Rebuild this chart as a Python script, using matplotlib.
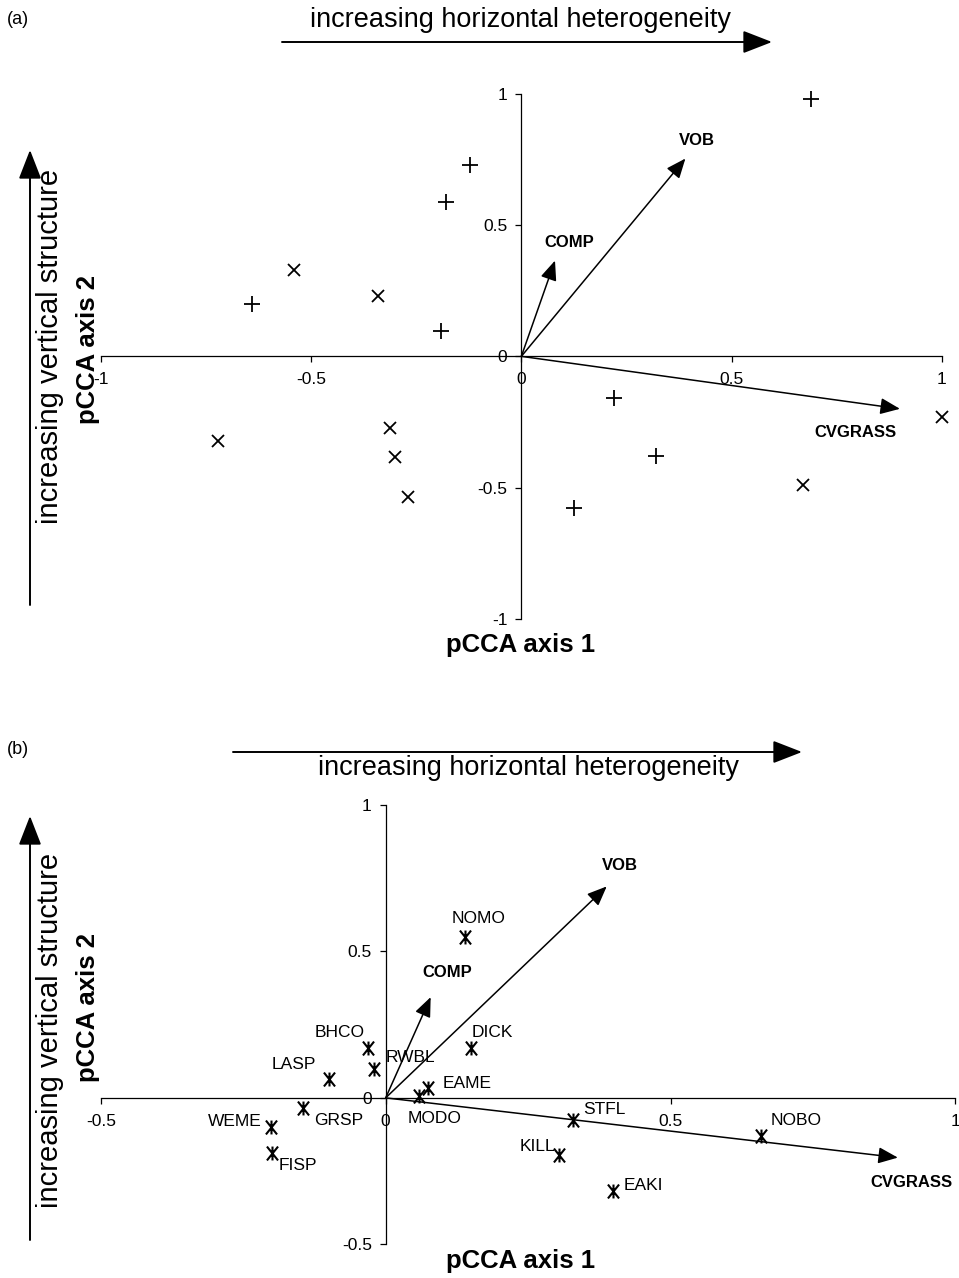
import matplotlib
matplotlib.use('Agg')
import matplotlib.pyplot as plt
from matplotlib.path import Path

plt.rcParams['font.family'] = ['Liberation Sans', 'DejaVu Sans']
plt.rcParams['axes.unicode_minus'] = False

# ---------------- data ----------------
# Panel (a): site scores, two groups
plus_x = [-0.641, -0.191, -0.180, -0.121, 0.689, 0.220, 0.320, 0.124]
plus_y = [0.200, 0.098, 0.590, 0.729, 0.981, -0.160, -0.380, -0.578]
cross_x = [-0.540, -0.340, -0.720, -0.312, -0.300, -0.270, 0.670, 1.001]
cross_y = [0.330, 0.230, -0.323, -0.272, -0.383, -0.536, -0.492, -0.233]

# Environmental vectors
env_names = ['VOB', 'COMP', 'CVGRASS']
env_a_x = [0.390, 0.080, 0.900]
env_a_y = [0.754, 0.365, -0.200]
env_b_x = [0.388, 0.079, 0.899]
env_b_y = [0.722, 0.344, -0.204]

# Panel (b): species scores
species = ['NOMO', 'BHCO', 'RWBL', 'LASP', 'DICK', 'EAME', 'MODO',
           'GRSP', 'WEME', 'FISP', 'STFL', 'NOBO', 'KILL', 'EAKI']
sp_x = [0.139, -0.031, -0.021, -0.099, 0.149, 0.074, 0.059,
        -0.145, -0.2015, -0.199, 0.329, 0.658, 0.304, 0.399]
sp_y = [0.549, 0.170, 0.097, 0.064, 0.170, 0.034, 0.006,
        -0.034, -0.100, -0.187, -0.077, -0.130, -0.195, -0.318]

ticks_a = [-1, -0.5, 0, 0.5, 1]
ticklabels_a = ['-1', '-0.5', '0', '0.5', '1']
ticks_b = [-0.5, 0, 0.5, 1]
ticklabels_b = ['-0.5', '0', '0.5', '1']

# ---------------- layout helpers ----------------
W, H = 959, 1278


def fp(x, y):
    return (x / W, 1 - y / H)


env_offsets_a = {'VOB': (11, 18), 'COMP': (14, 18), 'CVGRASS': (-44, -24)}
env_offsets_b = {'VOB': (13, 21), 'COMP': (17, 25), 'CVGRASS': (14, -25)}
sp_offsets = {'NOMO': (14, 19), 'BHCO': (-28, 16), 'RWBL': (37, 12),
              'LASP': (-35, 15), 'DICK': (22, 16), 'EAME': (39, 4),
              'MODO': (15, -22), 'GRSP': (36, -13), 'WEME': (-36, 6),
              'FISP': (26, -13), 'STFL': (31, 11), 'NOBO': (36, 15),
              'KILL': (-21, 8), 'EAKI': (30, 5)}

fig = plt.figure(figsize=(W / 100, H / 100), dpi=100)

ax_a = fig.add_axes([100.7 / W, 1 - 618.7 / H, (942 - 100.7) / W, (618.7 - 94) / H])
ax_b = fig.add_axes([100.8 / W, 1 - 1244.3 / H, (955.4 - 100.8) / W, (1244.3 - 805) / H])


def style(ax, lim, ticks, labels):
    ax.set_xlim(lim)
    ax.set_ylim(lim)
    for s in ['top', 'right']:
        ax.spines[s].set_visible(False)
    ax.spines['left'].set_position(('data', 0))
    ax.spines['bottom'].set_position(('data', 0))
    for s in ['left', 'bottom']:
        ax.spines[s].set_linewidth(0.9)
    ax.set_xticks(ticks)
    ax.set_xticklabels(labels)
    ax.set_yticks(ticks)
    ax.set_yticklabels(labels)
    ax.tick_params(axis='x', direction='out', length=4, width=0.9, labelsize=12.5, pad=7.5)
    ax.tick_params(axis='y', direction='out', length=4, width=0.9, labelsize=12.5, pad=6)
    ax.patch.set_visible(False)


style(ax_a, (-1, 1), ticks_a, ticklabels_a)
style(ax_b, (-0.5, 1), ticks_b, ticklabels_b)

arrow_kw = dict(arrowstyle='-|>,head_length=0.6,head_width=0.25', color='k',
                lw=1.1, mutation_scale=20, shrinkA=0, shrinkB=0)

# Panel (a)
ax_a.plot(plus_x, plus_y, ls='none', marker='+', ms=11, mew=1.3, color='k', clip_on=False)
ax_a.plot(cross_x, cross_y, ls='none', marker='x', ms=9, mew=1.3, color='k', clip_on=False)
for name, x, y in zip(env_names, env_a_x, env_a_y):
    ax_a.annotate('', xy=(x, y), xytext=(0, 0), arrowprops=arrow_kw)
    ax_a.annotate(name, xy=(x, y), xytext=env_offsets_a[name], textcoords='offset pixels',
                  ha='center', va='center', fontsize=12, fontweight='bold')

# Panel (b)
star = Path([(0, -1), (0, 1), (-0.8, -1), (0.8, 1), (-0.8, 1), (0.8, -1)],
            [Path.MOVETO, Path.LINETO, Path.MOVETO, Path.LINETO, Path.MOVETO, Path.LINETO])
for name, x, y in zip(env_names, env_b_x, env_b_y):
    ax_b.annotate('', xy=(x, y), xytext=(0, 0), arrowprops=arrow_kw)
    ax_b.annotate(name, xy=(x, y), xytext=env_offsets_b[name], textcoords='offset pixels',
                  ha='center', va='center', fontsize=12, fontweight='bold')
ax_b.plot(sp_x, sp_y, ls='none', marker=star, ms=10, mew=1.5, color='k', mfc='none',
          clip_on=False)
for name, x, y in zip(species, sp_x, sp_y):
    ax_b.annotate(name, xy=(x, y), xytext=sp_offsets[name], textcoords='offset pixels',
                  ha='center', va='center', fontsize=12.5)

# Outer annotations
outer_kw = dict(arrowstyle='-|>,head_length=0.9,head_width=0.35', color='k',
                lw=1.4, mutation_scale=20, shrinkA=0, shrinkB=0)
fig.text(*fp(7, 19), '(a)', fontsize=13, ha='left', va='center')
fig.text(*fp(7, 749), '(b)', fontsize=13, ha='left', va='center')

fig.text(*fp(520, 20), 'increasing horizontal heterogeneity', fontsize=19.5,
         ha='center', va='center')
fig.add_artist(matplotlib.patches.FancyArrowPatch(fp(282, 42), fp(772, 42),
               transform=fig.transFigure, **outer_kw))
fig.add_artist(matplotlib.patches.FancyArrowPatch(fp(30, 605), fp(30, 150),
               transform=fig.transFigure, **outer_kw))
fig.text(*fp(50, 346), 'increasing vertical structure', fontsize=21, rotation=90,
         ha='center', va='center')
fig.text(*fp(88, 349), 'pCCA axis 2', fontsize=18.5, fontweight='bold', rotation=90,
         ha='center', va='center')
fig.text(*fp(521, 645), 'pCCA axis 1', fontsize=18.5, fontweight='bold',
         ha='center', va='center')

fig.text(*fp(529, 768), 'increasing horizontal heterogeneity', fontsize=19.5,
         ha='center', va='center')
fig.add_artist(matplotlib.patches.FancyArrowPatch(fp(233, 752), fp(802, 752),
               transform=fig.transFigure, **outer_kw))
fig.add_artist(matplotlib.patches.FancyArrowPatch(fp(30, 1240), fp(30, 816),
               transform=fig.transFigure, **outer_kw))
fig.text(*fp(50, 1030), 'increasing vertical structure', fontsize=21, rotation=90,
         ha='center', va='center')
fig.text(*fp(88, 1007), 'pCCA axis 2', fontsize=18.5, fontweight='bold', rotation=90,
         ha='center', va='center')
fig.text(*fp(521, 1261), 'pCCA axis 1', fontsize=18.5, fontweight='bold',
         ha='center', va='center')

fig.savefig('out.png', dpi=100)
